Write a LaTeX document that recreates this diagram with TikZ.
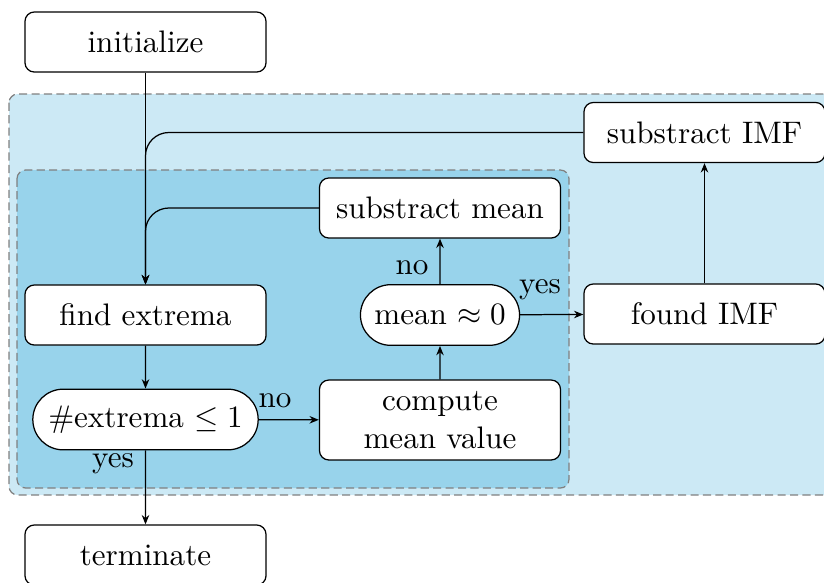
\documentclass[tikz,border=0pt]{standalone}
\usetikzlibrary{shapes.misc,arrows.meta}
\definecolor{outerblue}{RGB}{204,233,245}
\definecolor{innerblue}{RGB}{152,211,235}
\begin{document}
\begin{tikzpicture}[x=0.3215pt,y=-0.3215pt,
  box/.style={draw,fill=white,rounded corners=3pt,line width=0.4pt,
    minimum width=77.5pt,minimum height=19.3pt,align=center,inner sep=1pt},
  decision/.style={draw,fill=white,rounded rectangle,line width=0.4pt,
    minimum height=19.5pt,inner ysep=2pt,inner xsep=3.9pt},
  region/.style={draw=black!50,dash pattern=on 2.6pt off 1.4pt,rounded corners=2.8pt,line width=0.4pt},
  arr/.style={-{Stealth[length=3pt,width=2.4pt]},line width=0.4pt},
  lbl/.style={inner sep=0pt}]
\useasboundingbox (0,0) rectangle (824,582);
\begin{scope}
\clip (0,0) rectangle (824,582);
\draw[region,fill=outerblue] (9,94) rectangle (834,495);
\draw[region,fill=innerblue] (17,170) rectangle (569,488);

\node[box] (init) at (145.5,42) {initialize};
\node[box] (sIMF) at (704.5,132.5) {substract IMF};
\node[box] (smean) at (440,208) {substract mean};
\node[box] (find) at (145.5,315) {find extrema};
\node[decision] (mean) at (440,315) {mean $\approx 0$};
\node[box] (found) at (704.5,314) {found IMF};
\node[decision] (ext) at (145.5,419.5) {\#extrema $\leq 1$};
\node[box,minimum height=25.7pt] (comp) at (440,420) {compute\\mean value};
\node[box] (term) at (145.5,555) {terminate};

\draw[arr] (init) -- (find);
\draw[arr,rounded corners=7.5pt] (sIMF.west) -| (find.north);
\draw[arr,rounded corners=7.5pt] (smean.west) -| (find.north);
\draw[arr] (find) -- (ext);
\draw[arr] (ext) -- (comp);
\draw[arr] (ext) -- (term);
\draw[arr] (comp) -- (mean);
\draw[arr] (mean) -- (smean);
\draw[arr] (mean) -- (found);
\draw[arr] (found) -- (sIMF);

\node[lbl] (l1) at (275,401) {no};
\node[lbl] (l2) at (113,464) {yes};
\node[lbl] (l3) at (412,268) {no};
\node[lbl] (l4) at (540,290) {yes};
\end{scope}
\end{tikzpicture}
\end{document}
